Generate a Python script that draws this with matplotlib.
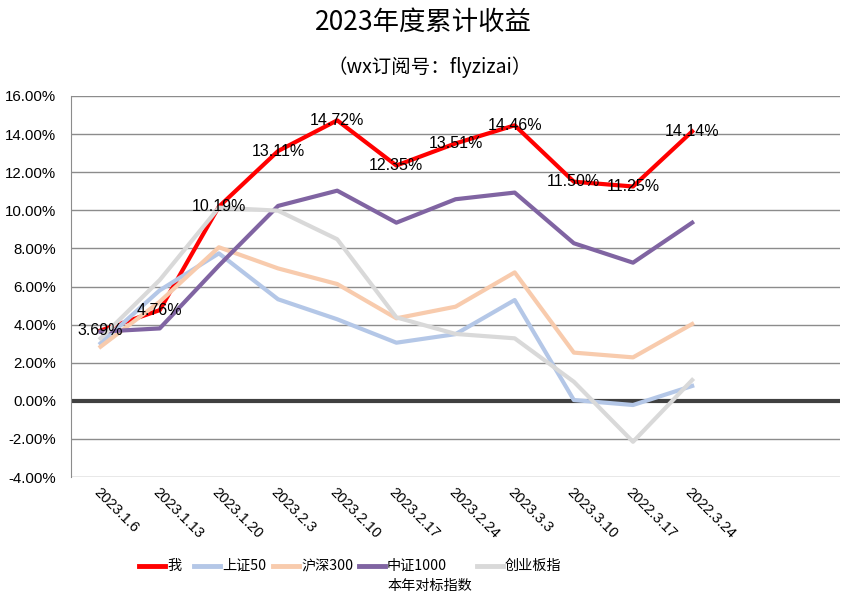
import numpy as np
import matplotlib
matplotlib.use("Agg")
import matplotlib.pyplot as plt
import matplotlib.transforms as mtransforms
from matplotlib.lines import Line2D
from matplotlib.ticker import FuncFormatter

plt.rcParams['font.family'] = ['Noto Sans CJK SC', 'DejaVu Sans']

dates = ["2023.1.6", "2023.1.13", "2023.1.20", "2023.2.3", "2023.2.10", "2023.2.17",
         "2023.2.24", "2023.3.3", "2023.3.10", "2022.3.17", "2022.3.24"]

# rendement cumulé (%)
moi = [3.69, 4.76, 10.19, 13.11, 14.72, 12.35, 13.51, 14.46, 11.50, 11.25, 14.14]
sz50 = [3.02, 5.80, 7.74, 5.33, 4.28, 3.05, 3.50, 5.29, 0.04, -0.22, 0.78]
hs300 = [2.84, 5.20, 8.06, 6.95, 6.13, 4.33, 4.94, 6.74, 2.53, 2.28, 4.03]
zz1000 = [3.63, 3.80, 7.10, 10.23, 11.03, 9.35, 10.58, 10.93, 8.27, 7.25, 9.35]
cyb = [3.28, 6.34, 10.14, 9.98, 8.48, 4.38, 3.51, 3.28, 1.00, -2.15, 1.09]

noms = ["我", "上证50", "沪深300", "中证1000", "创业板指"]
couleurs = ["#FF0000", "#B4C7E7", "#F8CBAD", "#8064A2", "#D9D9D9"]
series = [moi, sz50, hs300, zz1000, cyb]

x = np.arange(len(dates))

fig = plt.figure(figsize=(8.46, 5.98), dpi=100)
ax = fig.add_axes([0.0839, 0.2023, 0.9091, 0.6372])

for s, c in zip(series, couleurs):
    ax.plot(x, s, color=c, lw=3)

for xi, v in zip(x, moi):
    ax.text(xi, v, "%.2f%%" % v, ha="center", va="center", fontsize=11.5,
            family=["Liberation Sans"], color="black", zorder=5)

ax.set_ylim(-4, 16)
ax.set_yticks(np.arange(-4, 16.1, 2))
ax.yaxis.set_major_formatter(FuncFormatter(lambda v, p: "%.2f%%" % v))
ax.set_xlim(-0.5, 12.5)
ax.set_xticks(x)
ax.set_xticklabels(dates, rotation=-45, ha="left", rotation_mode="anchor",
                   fontsize=10.5, family=["Liberation Sans"])
decal = mtransforms.ScaledTranslation(-0.04, 0, fig.dpi_scale_trans)
for lab in ax.get_xticklabels():
    lab.set_transform(lab.get_transform() + decal)
for lab in ax.get_yticklabels():
    lab.set_fontsize(10.8)
    lab.set_family(["Liberation Sans"])
ax.tick_params(axis="both", length=0)
ax.tick_params(axis="x", pad=6)
ax.tick_params(axis="y", pad=10.5)

ax.grid(axis="y", color="#8C8C8C", lw=1)
ax.set_axisbelow(True)
ax.axhline(0, color="#404040", lw=3, zorder=1.5)
for s in ["top", "right", "bottom"]:
    ax.spines[s].set_visible(False)
ax.spines["left"].set_color("#8C8C8C")

fig.text(0.5, 0.962, "2023年度累计收益", ha="center", va="center", fontsize=19)
fig.text(0.508, 0.888, "（wx订阅号：flyzizai）", ha="center", va="center", fontsize=14)

# légende faite à la main (le 2e libellé de 中证1000 est sous la première ligne)
W, H = 846.0, 598.0
debut_trait = [139, 194, 273, 359, 477]
y_leg = 1 - 566 / H
for x0, nom, c in zip(debut_trait, noms, couleurs):
    fig.add_artist(Line2D([x0 / W, (x0 + 26) / W], [y_leg, y_leg], color=c, lw=3.5,
                          transform=fig.transFigure))
    fig.text((x0 + 28) / W, y_leg, nom, ha="left", va="center", fontsize=10.2)
fig.text((359 + 28) / W, 1 - 586 / H, "本年对标指数", ha="left", va="center", fontsize=10.2)

fig.savefig("out.png", dpi=100)
